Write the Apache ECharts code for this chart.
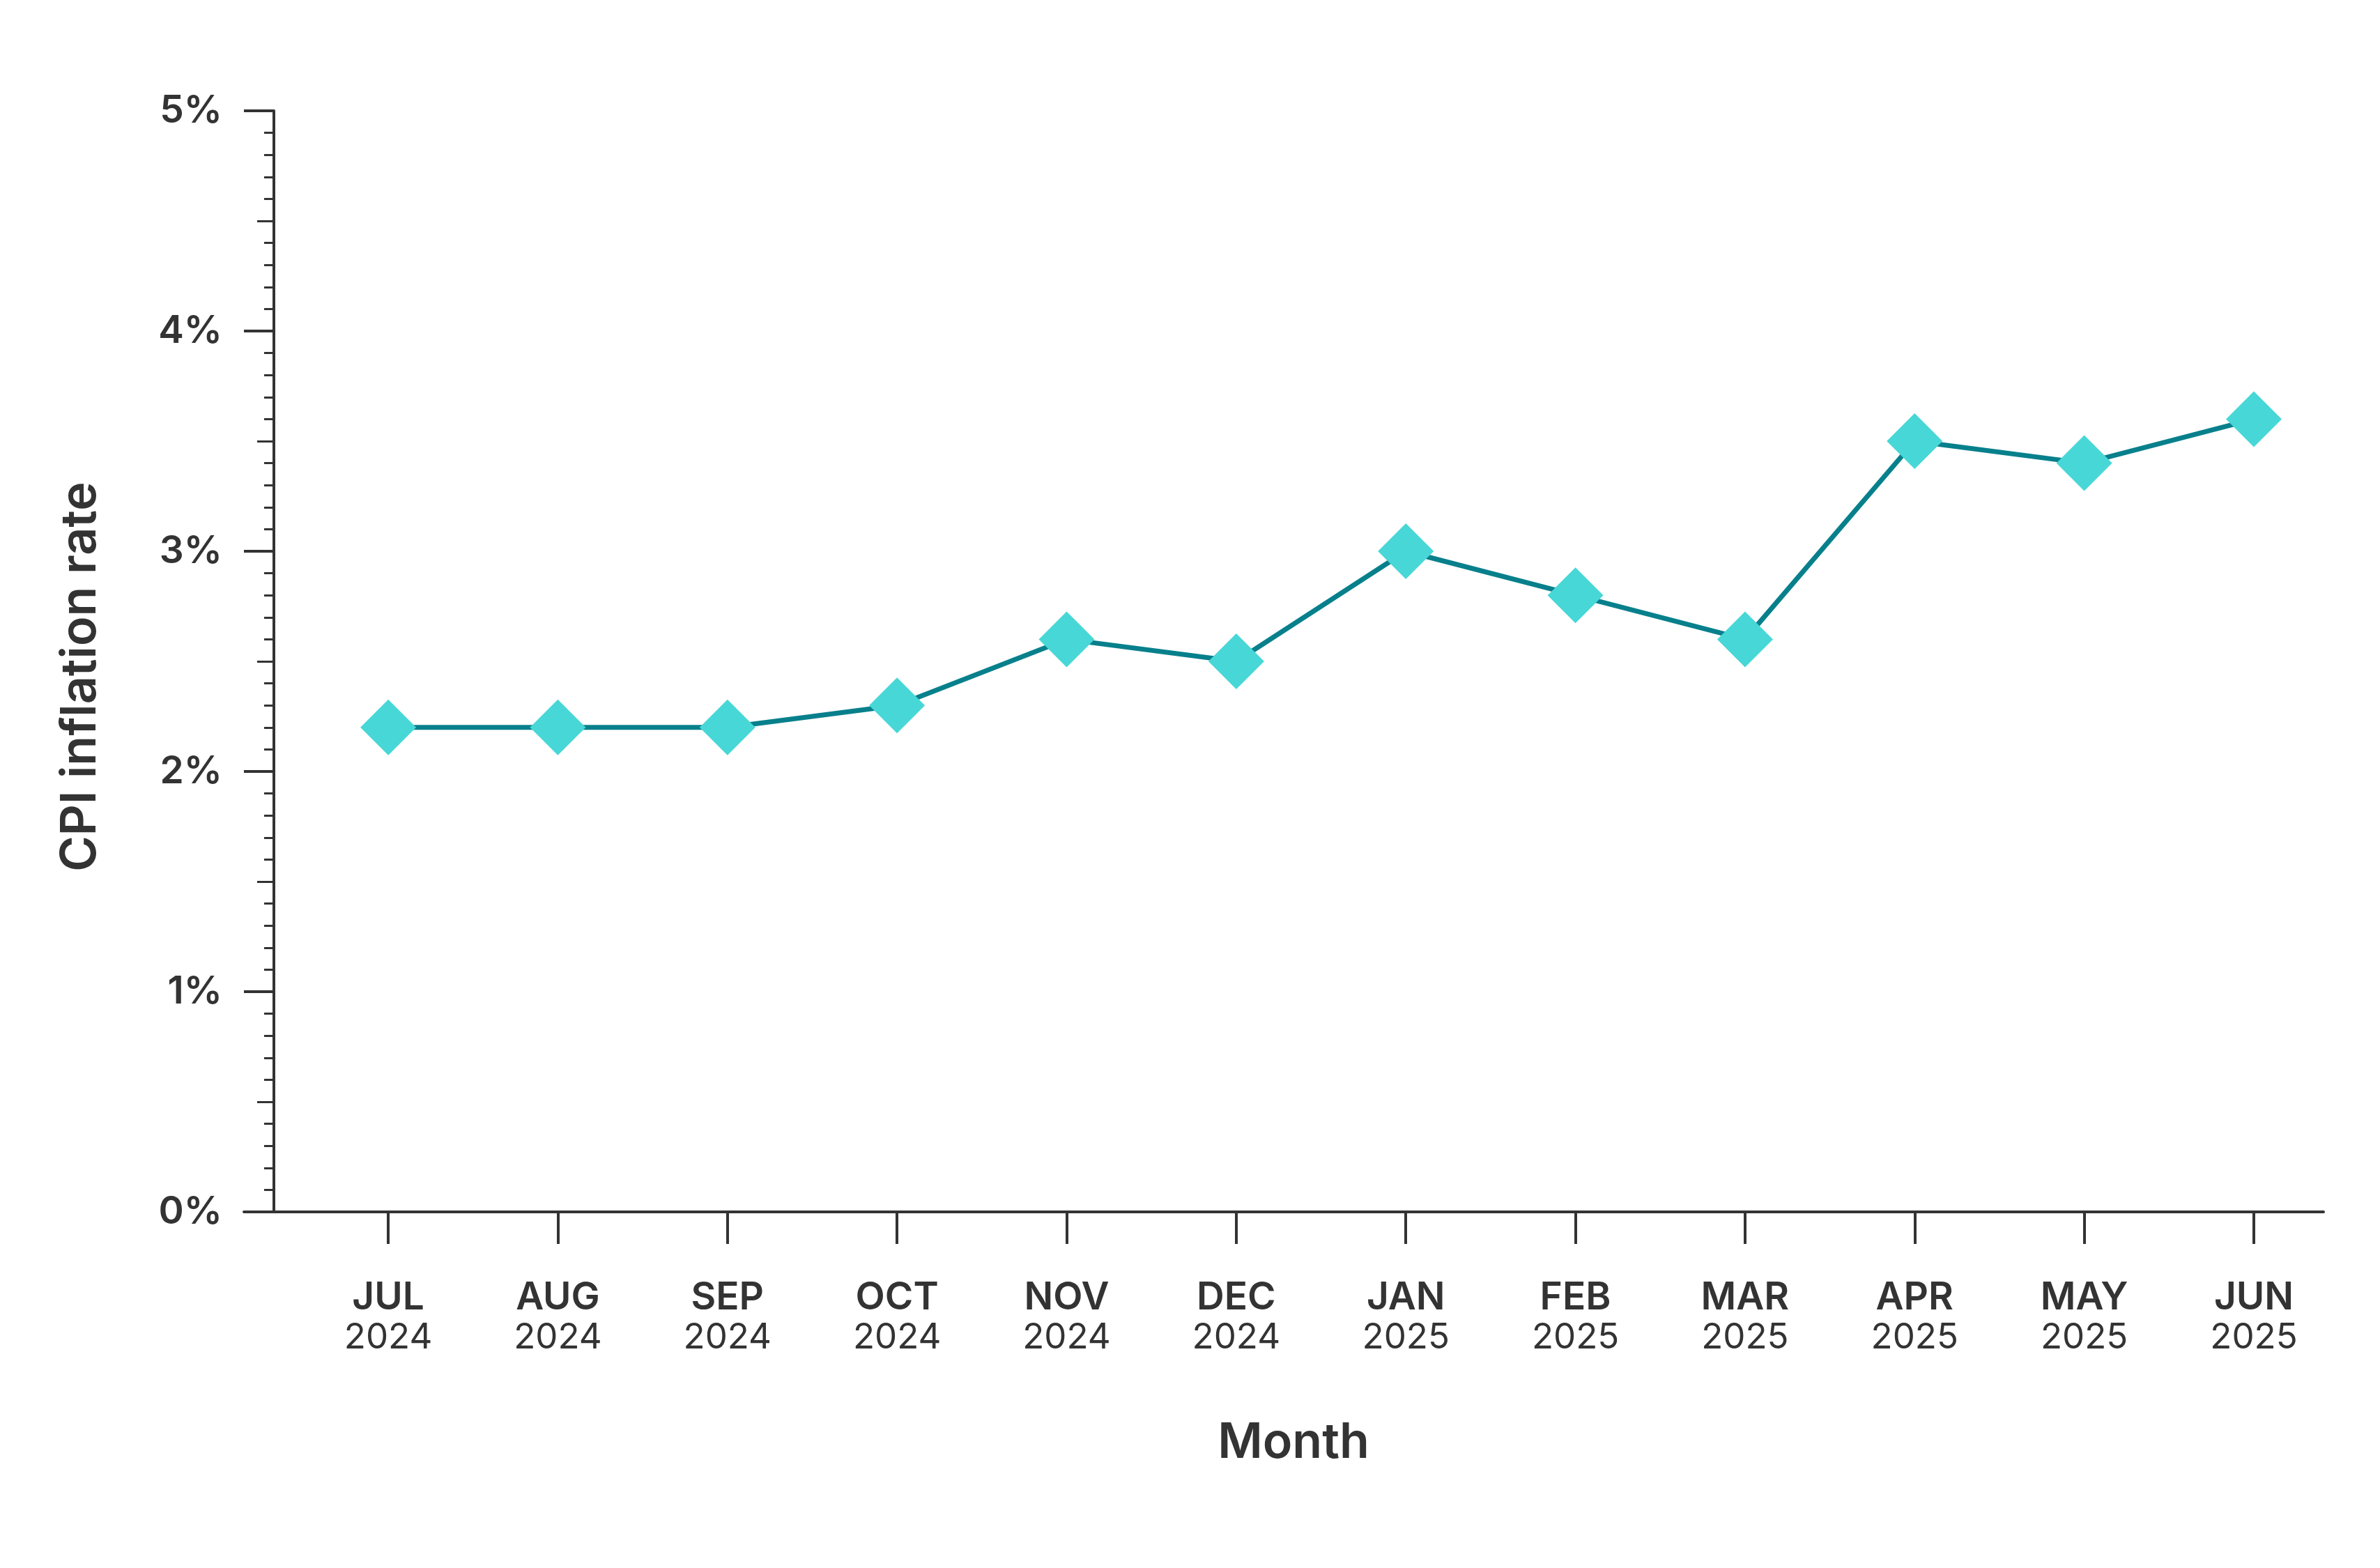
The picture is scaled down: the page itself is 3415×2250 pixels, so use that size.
<!DOCTYPE html>
<html>
<head>
<meta charset="utf-8">
<script src="https://cdn.jsdelivr.net/npm/echarts@6/dist/echarts.min.js"></script>
<style>
  html, body { margin: 0; padding: 0; background: #fff; }
  #main { width: 3415px; height: 2250px; }
</style>
</head>
<body>
<div id="main"></div>
<script>
// data
var months = ['JUL', 'AUG', 'SEP', 'OCT', 'NOV', 'DEC', 'JAN', 'FEB', 'MAR', 'APR', 'MAY', 'JUN'];
var years = ['2024', '2024', '2024', '2024', '2024', '2024', '2025', '2025', '2025', '2025', '2025', '2025'];
var cpiRate = [2.2, 2.2, 2.2, 2.3, 2.6, 2.5, 3.0, 2.8, 2.6, 3.5, 3.4, 3.6];

var idx = months.map(function (m, i) { return i; });
var seriesData = cpiRate.map(function (v, i) { return [i, v]; });

var myChart = echarts.init(document.getElementById('main'));
var ink = '#333333';

var option = {
    backgroundColor: '#ffffff',
    animation: false,
    grid: { left: 350, right: 81, top: 159, bottom: 511 },
    xAxis: {
        type: 'value',
        min: -0.851,
        max: 11.411,
        name: 'Month',
        nameLocation: 'middle',
        nameGap: 297,
        nameTextStyle: { fontFamily: 'Inter', fontSize: 70, fontWeight: 600, color: ink, padding: [0, 0, 0, 28] },
        splitLine: { show: false },
        axisLine: { show: true, onZero: false, lineStyle: { color: ink, width: 4 } },
        axisTick: { show: true, customValues: idx, length: 46, lineStyle: { color: ink, width: 4 } },
        axisLabel: {
            customValues: idx,
            margin: 94,
            formatter: function (v) {
                var i = Math.round(v);
                return '{m|' + months[i] + '}\n{y|' + years[i] + '}';
            },
            rich: {
                m: { fontFamily: 'Inter', fontSize: 55, fontWeight: 600, color: ink, lineHeight: 58 },
                y: { fontFamily: 'Inter', fontSize: 51, fontWeight: 400, color: ink, lineHeight: 58 }
            }
        }
    },
    yAxis: [{
        type: 'value',
        min: 0,
        max: 5,
        interval: 1,
        offset: -43,
        name: 'CPI inflation rate',
        nameLocation: 'middle',
        nameGap: 242,
        nameTextStyle: { fontFamily: 'Inter', fontSize: 70, fontWeight: 600, color: ink, padding: [0, 44, 0, 0] },
        splitLine: { show: false },
        axisLine: { show: true, onZero: false, lineStyle: { color: ink, width: 4 } },
        axisTick: { show: true, length: 43, lineStyle: { color: ink, width: 4 } },
        minorTick: { show: true, splitNumber: 10, length: 14, lineStyle: { color: ink, width: 3 } },
        axisLabel: {
            margin: 74,
            formatter: '{value}%',
            fontFamily: 'Inter', fontSize: 55, fontWeight: 600, color: ink
        }
    }, {
        // half-step ticks, slightly longer than the minor ones
        type: 'value',
        position: 'left',
        min: 0,
        max: 5,
        interval: 0.5,
        offset: -43,
        splitLine: { show: false },
        axisLine: { show: false, onZero: false },
        axisTick: { show: true, length: 24, lineStyle: { color: ink, width: 3 } },
        axisLabel: { show: false }
    }],
    series: [{
        type: 'line',
        data: seriesData,
        yAxisIndex: 0,
        symbol: 'diamond',
        symbolSize: 80,
        lineStyle: { color: '#07808C', width: 7 },
        itemStyle: { color: '#48D7D7' },
        z: 3
    }]
};

myChart.setOption(option);
window.addEventListener('resize', function () {
    myChart.resize();
});
</script>
</body>
</html>
